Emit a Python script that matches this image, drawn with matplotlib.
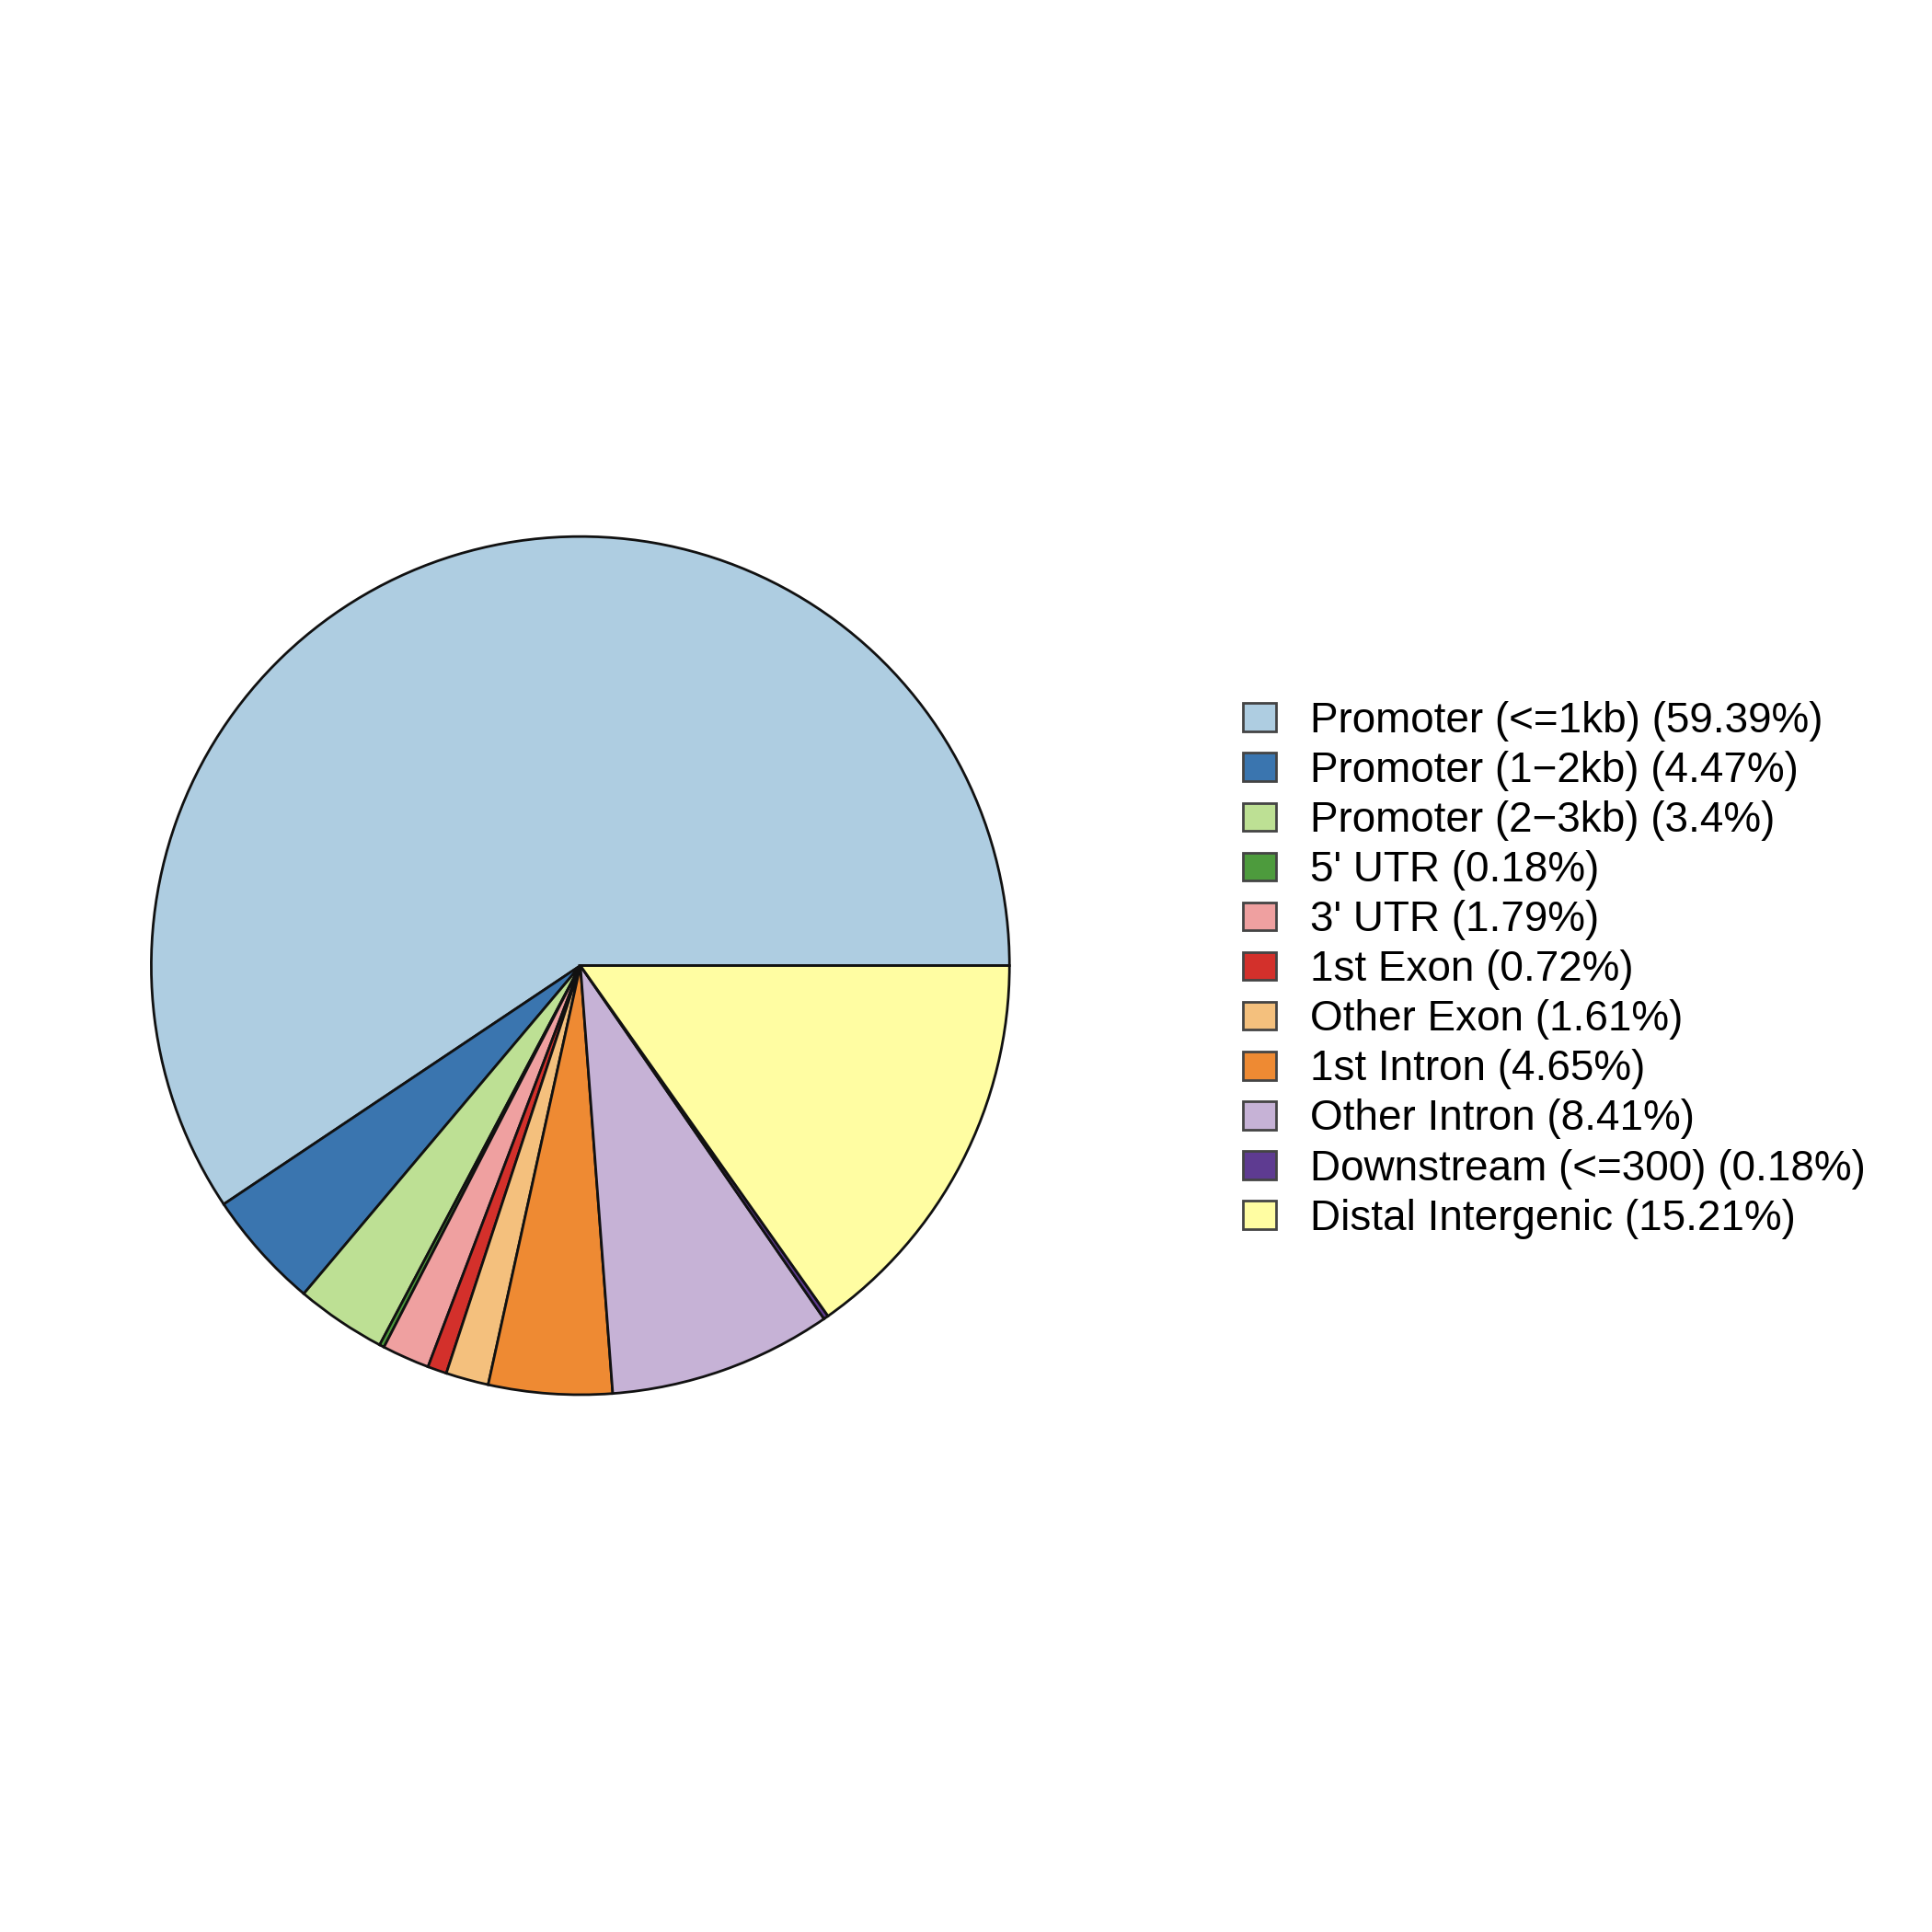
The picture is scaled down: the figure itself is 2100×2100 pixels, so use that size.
import matplotlib.pyplot as plt

labels = ["Promoter (<=1kb)", "Promoter (1\u22122kb)", "Promoter (2\u22123kb)", "5' UTR",
          "3' UTR", "1st Exon", "Other Exon", "1st Intron", "Other Intron",
          "Downstream (<=300)", "Distal Intergenic"]
percents = [59.39, 4.47, 3.4, 0.18, 1.79, 0.72, 1.61, 4.65, 8.41, 0.18, 15.21]
colors = ["#AECDE1", "#3A75AF", "#BDE094", "#4D9B3D", "#EFA0A0", "#D3302B",
          "#F4C07D", "#EE8A33", "#C6B2D6", "#5E3B91", "#FFFDA2"]

plt.rcParams['font.family'] = ['Liberation Sans', 'DejaVu Sans']

fig = plt.figure(figsize=(21, 21), dpi=100)
r = 0.2221
ax = fig.add_axes([0.3004 - r, 0.5002 - r, 2 * r, 2 * r])
wedges, _ = ax.pie(percents, colors=colors, startangle=0, counterclock=True,
                   wedgeprops=dict(edgecolor="#111111", linewidth=2.0))
ax.set_xlim(-1, 1)
ax.set_ylim(-1, 1)
ax.set_aspect("equal")

legend_labels = [f"{l} ({p}%)" for l, p in zip(labels, percents)]
leg = fig.legend(wedges, legend_labels, loc="center left", bbox_to_anchor=(0.6235, 0.498),
                 frameon=False, fontsize=33, handlelength=0.8, handleheight=0.65,
                 handletextpad=0.8, labelspacing=0.22)
for h in leg.legend_handles:
    h.set_edgecolor("#444444")
    h.set_linewidth(2)

fig.savefig("out.png", dpi=100, facecolor="white")
